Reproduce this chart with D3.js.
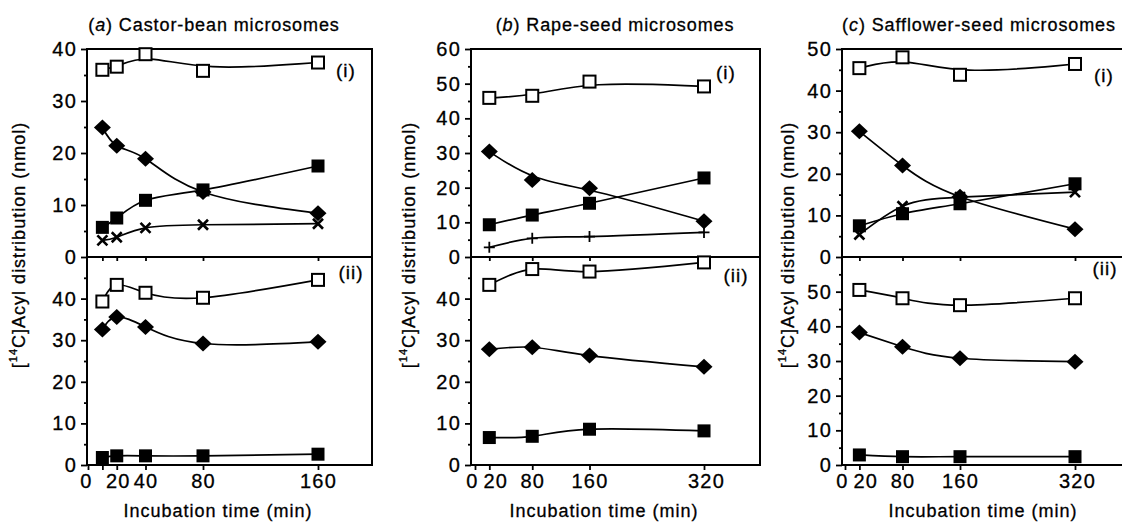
<!DOCTYPE html>
<html>
<head>
<meta charset="utf-8">
<script src="https://cdn.jsdelivr.net/npm/d3@7"></script>
<style>
  body { margin: 0; background: #fff; }
  svg text { font-family: "Liberation Sans", Arial, Helvetica, sans-serif; fill: #000; stroke: #000; stroke-width: 0.3px; }
</style>
</head>
<body>
<svg width="1122" height="523"></svg>
<script>
// incubation times (min)
const castorTimes = [10, 20, 40, 80, 160];
const seedTimes = [20, 80, 160, 320];

// x tick values / labels
const castorTicks = [0, 10, 20, 40, 80, 160];
const castorTickLabels = ['0', '', '20', '40', '80', '160'];
const seedTicks = [0, 20, 80, 160, 320];
const seedTickLabels = ['0', '20', '80', '160', '320'];

// (a) castor-bean, (i) upper and (ii) lower
const castorUpperOpenSq = [36.0, 36.6, 39.0, 35.8, 37.4];
const castorUpperDiamond = [24.9, 21.4, 18.9, 12.5, 8.4];
const castorUpperFilledSq = [5.7, 7.5, 10.9, 12.9, 17.5];
const castorUpperCross = [3.2, 3.8, 5.6, 6.2, 6.4];
const castorLowerOpenSq = [39.3, 43.3, 41.4, 40.2, 44.5];
const castorLowerDiamond = [32.6, 35.6, 33.2, 29.2, 29.6];
const castorLowerFilledSq = [1.8, 2.2, 2.2, 2.2, 2.6];

// (b) rape-seed
const rapeUpperOpenSq = [45.9, 46.5, 50.6, 49.2];
const rapeUpperDiamond = [30.4, 22.2, 19.8, 10.3];
const rapeUpperFilledSq = [9.3, 12.1, 15.5, 22.8];
const rapeUpperPlus = [2.8, 5.4, 5.9, 7.1];
const rapeLowerOpenSq = [43.3, 47.1, 46.5, 48.7];
const rapeLowerDiamond = [27.8, 28.3, 26.3, 23.6];
const rapeLowerFilledSq = [6.6, 6.9, 8.6, 8.2];

// (c) safflower-seed
const saffUpperOpenSq = [45.4, 48.0, 43.8, 46.4];
const saffUpperDiamond = [30.2, 22.0, 14.5, 6.7];
const saffUpperFilledSq = [7.5, 10.4, 12.8, 17.6];
const saffUpperCross = [5.4, 12.2, 14.4, 15.6];
const saffLowerOpenSq = [50.5, 48.1, 46.1, 48.1];
const saffLowerDiamond = [38.2, 34.1, 30.8, 29.8];
const saffLowerFilledSq = [2.9, 2.4, 2.4, 2.4];

const svg = d3.select('svg');

const TOP = 49, SEP = 257, BOTTOM = 465;

const panels = [
  {
    letter: 'a', name: 'Castor-bean microsomes', titleX: 214,
    left: 87, right: 372, x0: 88, xRef: 160, xRefPx: 318,
    times: castorTimes, ticks: castorTicks, tickLabels: castorTickLabels,
    tickDx: [-2, 0, 1, 0, 0, 0],
    topMax: 40, botMax: 50, yLabelX: 19, xLabelX: 218,
    romanI: [346, 70], romanII: [351, 272],
    upper: [
      { v: castorUpperOpenSq, m: 'open', curve: 'basis' },
      { v: castorUpperDiamond, m: 'diamond' },
      { v: castorUpperFilledSq, m: 'filled' },
      { v: castorUpperCross, m: 'cross' }
    ],
    lower: [
      { v: castorLowerOpenSq, m: 'open' },
      { v: castorLowerDiamond, m: 'diamond' },
      { v: castorLowerFilledSq, m: 'filled' }
    ]
  },
  {
    letter: 'b', name: 'Rape-seed microsomes', titleX: 615,
    left: 471, right: 760, x0: 475, xRef: 320, xRefPx: 704,
    times: seedTimes, ticks: seedTicks, tickLabels: seedTickLabels,
    tickDx: [-3, 6, 0, 0, 2],
    topMax: 60, botMax: 50, yLabelX: 409, xLabelX: 604,
    romanI: [726, 72], romanII: [736, 275],
    upper: [
      { v: rapeUpperOpenSq, m: 'open', curve: 'basis' },
      { v: rapeUpperDiamond, m: 'diamond', curve: 'basis' },
      { v: rapeUpperFilledSq, m: 'filled' },
      { v: rapeUpperPlus, m: 'plus' }
    ],
    lower: [
      { v: rapeLowerOpenSq, m: 'open' },
      { v: rapeLowerDiamond, m: 'diamond' },
      { v: rapeLowerFilledSq, m: 'filled' }
    ]
  },
  {
    letter: 'c', name: 'Safflower-seed microsomes', titleX: 979,
    left: 842, right: 1140, x0: 845, xRef: 320, xRefPx: 1075,
    times: seedTimes, ticks: seedTicks, tickLabels: seedTickLabels,
    tickDx: [-3, 6, 0, 0, 2],
    topMax: 50, botMax: 60, yLabelX: 788, xLabelX: 983,
    romanI: [1104, 75], romanII: [1105, 268],
    upper: [
      { v: saffUpperOpenSq, m: 'open', curve: 'basis' },
      { v: saffUpperDiamond, m: 'diamond' },
      { v: saffUpperFilledSq, m: 'filled' },
      { v: saffUpperCross, m: 'cross' }
    ],
    lower: [
      { v: saffLowerOpenSq, m: 'open' },
      { v: saffLowerDiamond, m: 'diamond' },
      { v: saffLowerFilledSq, m: 'filled' }
    ]
  }
];

const drawMarker = (g, type, cx, cy) => {
  if (type === 'open') {
    g.append('rect').attr('x', cx - 6).attr('y', cy - 6).attr('width', 12).attr('height', 12)
      .attr('fill', '#fff').attr('stroke', '#000').attr('stroke-width', 2);
  } else if (type === 'filled') {
    g.append('rect').attr('x', cx - 6.5).attr('y', cy - 6.5).attr('width', 13).attr('height', 13)
      .attr('fill', '#000');
  } else if (type === 'diamond') {
    g.append('path').attr('d', `M${cx},${cy - 8}L${cx + 8.5},${cy}L${cx},${cy + 8}L${cx - 8.5},${cy}Z`)
      .attr('fill', '#000');
  } else if (type === 'cross') {
    g.append('path').attr('d', `M${cx - 5},${cy - 5}L${cx + 5},${cy + 5}M${cx + 5},${cy - 5}L${cx - 5},${cy + 5}`)
      .attr('stroke', '#000').attr('stroke-width', 2.6);
  } else if (type === 'plus') {
    g.append('path').attr('d', `M${cx - 5.5},${cy}H${cx + 5.5}M${cx},${cy - 5.5}V${cy + 5.5}`)
      .attr('stroke', '#000').attr('stroke-width', 1.8);
  }
};

const styleAxis = (sel) => {
  sel.select('.domain').remove();
  sel.selectAll('line').attr('stroke', '#000').attr('stroke-width', 1.8);
  sel.selectAll('text').style('font-size', '20px').style('letter-spacing', '1.2px').attr('fill', '#000');
};

panels.forEach(p => {
  const g = svg.append('g');
  const x = d3.scaleLinear().domain([0, p.xRef]).range([p.x0, p.xRefPx]);
  const yUp = d3.scaleLinear().domain([0, p.topMax]).range([SEP, TOP]);
  const yLo = d3.scaleLinear().domain([0, p.botMax]).range([BOTTOM, SEP]);

  // frame and divider
  g.append('path')
    .attr('d', `M${p.left},${TOP}H${p.right}V${BOTTOM}H${p.left}Z M${p.left},${SEP}H${p.right}`)
    .attr('fill', 'none').attr('stroke', '#000').attr('stroke-width', 2);

  // y axes, upper
  g.append('g').attr('transform', `translate(${p.left},0)`)
    .call(d3.axisLeft(yUp).tickValues(d3.range(0, p.topMax + 1, 10)).tickSize(6).tickPadding(4))
    .call(styleAxis);
  g.append('g').attr('transform', `translate(${p.left},0)`)
    .call(d3.axisLeft(yUp).tickValues(d3.range(5, p.topMax, 10)).tickSize(3).tickFormat(''))
    .call(styleAxis);
  // y axes, lower
  g.append('g').attr('transform', `translate(${p.left},0)`)
    .call(d3.axisLeft(yLo).tickValues(d3.range(0, p.botMax, 10)).tickSize(6).tickPadding(4))
    .call(styleAxis);
  g.append('g').attr('transform', `translate(${p.left},0)`)
    .call(d3.axisLeft(yLo).tickValues(d3.range(5, p.botMax, 10)).tickSize(3).tickFormat(''))
    .call(styleAxis);

  // x axis
  const xa = g.append('g').attr('transform', `translate(0,${BOTTOM})`)
    .call(d3.axisBottom(x).tickValues(p.ticks).tickSize(5).tickPadding(4)
      .tickFormat((d, i) => p.tickLabels[i]))
    .call(styleAxis);
  xa.selectAll('text').attr('dx', (d, i) => p.tickDx[i]);

  // small ticks under divider
  g.append('g').attr('transform', `translate(0,${SEP})`)
    .call(d3.axisBottom(x).tickValues(p.ticks.filter(d => d > 0)).tickSize(4).tickFormat(''))
    .call(styleAxis);

  // series
  const drawSeries = (list, y) => {
    list.forEach(s => {
      const pts = p.times.map((t, i) => [x(t), y(s.v[i])]);
      const curve = s.curve === 'basis' ? d3.curveBasis : d3.curveNatural;
      g.append('path').attr('d', d3.line().curve(curve)(pts))
        .attr('fill', 'none').attr('stroke', '#000').attr('stroke-width', 1.7);
    });
    list.forEach(s => {
      p.times.forEach((t, i) => drawMarker(g, s.m, x(t), y(s.v[i])));
    });
  };
  drawSeries(p.upper, yUp);
  drawSeries(p.lower, yLo);

  // panel roman labels
  g.append('text').attr('x', p.romanI[0]).attr('y', p.romanI[1]).attr('text-anchor', 'middle')
    .attr('dominant-baseline', 'central').style('font-size', '19px').style('letter-spacing', '1px').text('(i)');
  g.append('text').attr('x', p.romanII[0]).attr('y', p.romanII[1]).attr('text-anchor', 'middle')
    .attr('dominant-baseline', 'central').style('font-size', '19px').style('letter-spacing', '1px').text('(ii)');

  // title
  const t = g.append('text').attr('x', p.titleX).attr('y', 31).attr('text-anchor', 'middle')
    .style('font-size', '18px').style('letter-spacing', '0.9px');
  t.append('tspan').text('(');
  t.append('tspan').style('font-style', 'italic').text(p.letter);
  t.append('tspan').text(') ' + p.name);

  // axis titles
  g.append('text').attr('x', p.xLabelX).attr('y', 517).attr('text-anchor', 'middle')
    .style('font-size', '18px').style('letter-spacing', '1px').text('Incubation time (min)');
  const yl = g.append('text')
    .attr('transform', `translate(${p.yLabelX},245) rotate(-90)`)
    .attr('text-anchor', 'middle').attr('dominant-baseline', 'central')
    .style('font-size', '18px').style('letter-spacing', '1px');
  yl.append('tspan').text('[');
  yl.append('tspan').attr('dy', -6).style('font-size', '11px').text('14');
  yl.append('tspan').attr('dy', 6).text('C]Acyl distribution (nmol)');
});
</script>
</body>
</html>
